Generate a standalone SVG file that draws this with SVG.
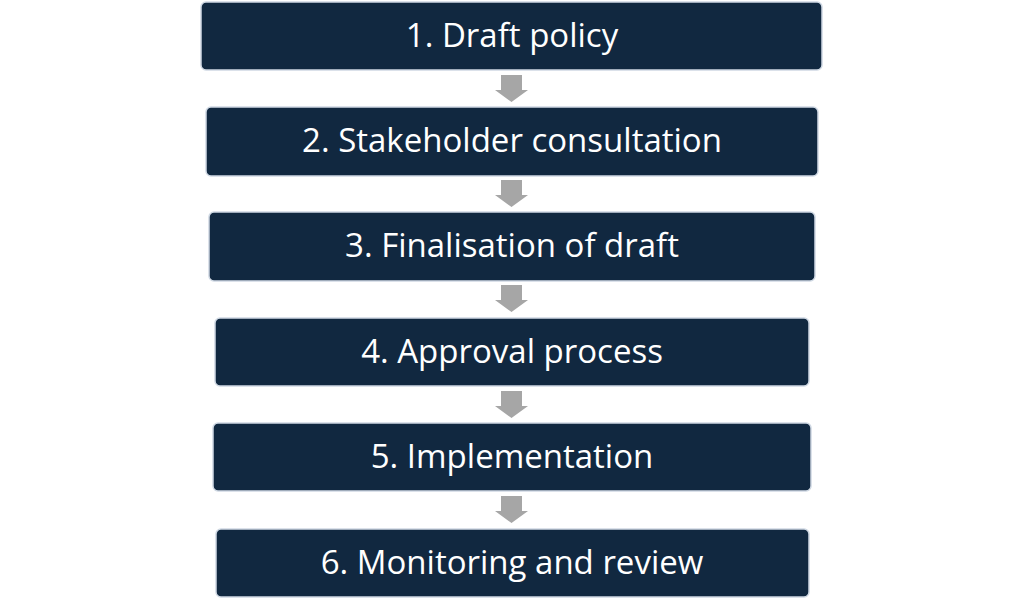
<svg xmlns="http://www.w3.org/2000/svg" width="1024" height="604" viewBox="0 0 1024 604">
<style>
.box{fill:#112840;stroke:#cfd8e3;stroke-width:1.5}
.lbl{fill:#ffffff;font-family:"Open Sans","Noto Sans",sans-serif;font-size:33px;text-anchor:middle}
.arr{fill:#a6a6a6}
</style>
<rect width="1024" height="604" fill="#ffffff"/>
<g id="connectors">
<path class="arr" d="M501,75 H522 V90 H528 L511.5,102 L495,90 H501 Z"/>
<path class="arr" d="M501,180 H522 V195 H528 L511.5,207 L495,195 H501 Z"/>
<path class="arr" d="M501,285 H522 V300 H528 L511.5,312 L495,300 H501 Z"/>
<path class="arr" d="M501,391 H522 V406 H528 L511.5,418 L495,406 H501 Z"/>
<path class="arr" d="M501,496 H522 V511 H528 L511.5,523 L495,511 H501 Z"/>
</g>
<g id="node1"><rect class="box" x="201" y="2" width="621" height="68" rx="5"/><text class="lbl" x="512" y="47">1. Draft policy</text></g>
<g id="node2"><rect class="box" x="206" y="107" width="612" height="69" rx="5"/><text class="lbl" x="512" y="152">2. Stakeholder consultation</text></g>
<g id="node3"><rect class="box" x="209" y="212" width="606" height="69" rx="5"/><text class="lbl" x="512" y="257">3. Finalisation of draft</text></g>
<g id="node4"><rect class="box" x="215" y="318" width="594" height="68" rx="5"/><text class="lbl" x="512" y="363">4. Approval process</text></g>
<g id="node5"><rect class="box" x="213" y="423" width="598" height="68" rx="5"/><text class="lbl" x="512" y="468">5. Implementation</text></g>
<g id="node6"><rect class="box" x="216" y="529" width="593" height="68" rx="5"/><text class="lbl" x="512" y="574">6. Monitoring and review</text></g>
</svg>
